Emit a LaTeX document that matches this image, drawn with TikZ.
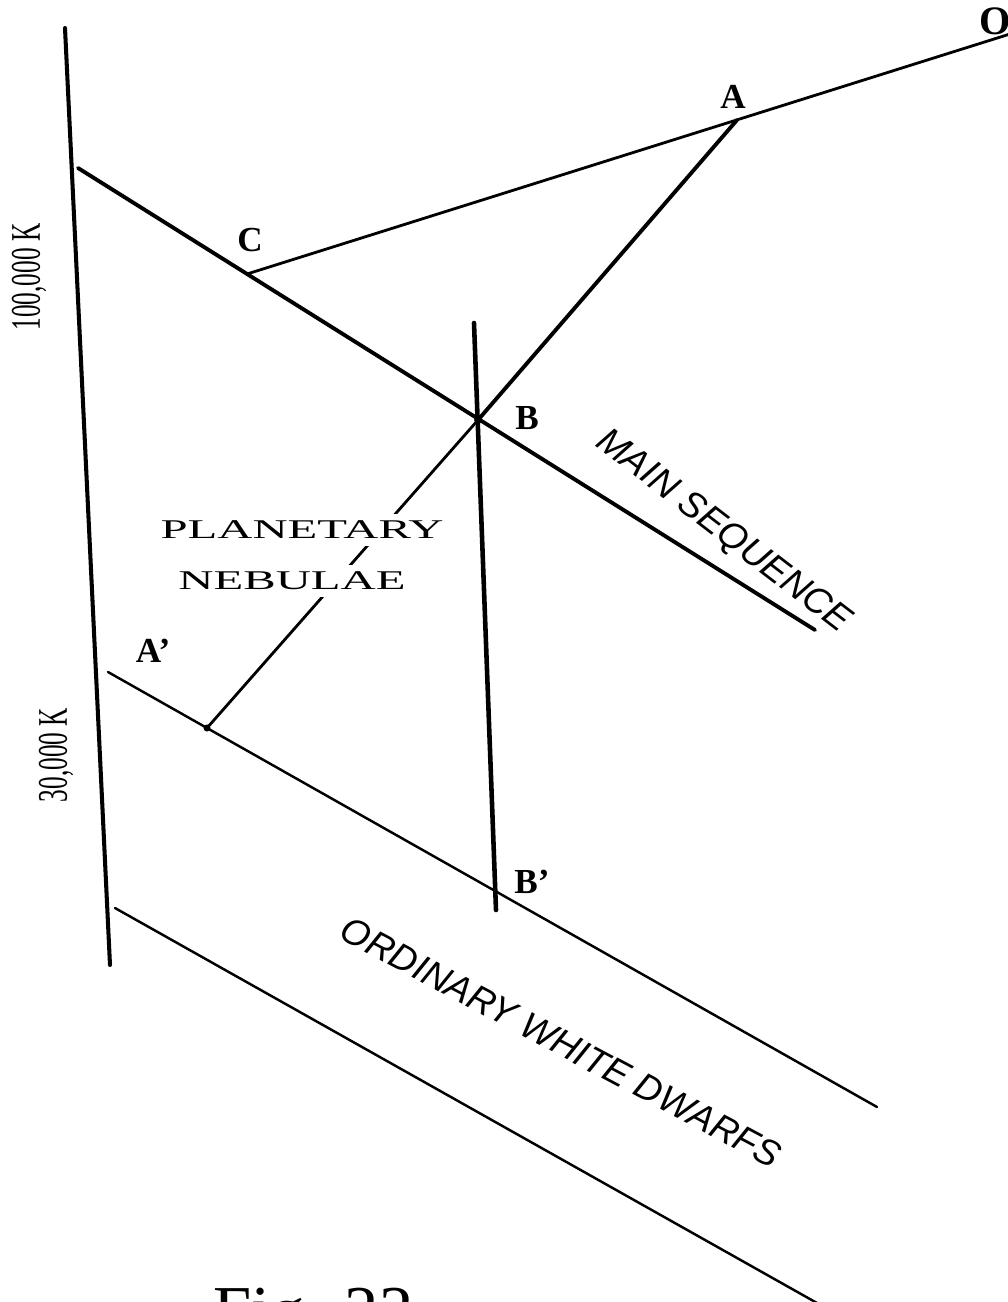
\documentclass[tikz,border=0pt]{standalone}
\usepackage{fontspec}
\setmainfont{Liberation Serif}
\setsansfont{Liberation Sans}
\usepackage{graphicx}
\usepackage{tikz}
\usepackage{tkz-euclide}

\tikzset{
  ptlabel/.style={font=\bfseries\fontsize{20}{24}\selectfont, anchor=center, inner sep=0pt},
  seqlabel/.style={font=\sffamily\itshape\fontsize{21}{24}\selectfont},
  templabel/.style={rotate=90, font=\fontsize{24}{28}\selectfont},
  neblabel/.style={fill=white, inner sep=4pt, font=\fontsize{15.4}{18}\selectfont}
}

\begin{document}
\begin{tikzpicture}
                \useasboundingbox (0,0) rectangle (20.14,-26.04);
                \tkzDefPoint(1.30,-0.56){T}
                \tkzDefPoint(2.20,-19.30){S}
                \tkzDefPoint(1.56,-3.36){M}
                \tkzDefPoint(16.30,-12.60){N}
                \tkzDefPoint(4.94,-5.48){C}
                \tkzDefPoint(14.74,-2.40){A}
                \tkzDefPoint(20.20,-0.68){O}
                \tkzDefPoint(9.56,-8.40){B}
                \tkzDefPoint(9.48,-6.46){U}
                \tkzDefPoint(9.92,-18.20){V}
                \tkzDefPoint(9.88,-17.80){Bp}
                \tkzDefPoint(2.16,-13.44){P}
                \tkzDefPoint(17.54,-22.14){Q}
                \tkzDefPoint(4.14,-14.56){Ap}
                \tkzDefPoint(2.30,-18.16){K}
                \tkzDefPoint(17.30,-26.60){L}
                \tkzDrawSegment[black, line width=2.3pt](T,S)
                \tkzDrawSegments[black, line width=2.2pt](M,N A,B)
                \tkzDrawSegment[black, line width=2.6pt](U,V)
                \tkzDrawSegment[black, line width=1.6pt](C,O)
                \tkzDrawSegment[black, line width=1.6pt](B,Ap)
                \tkzDrawSegments[black, line width=1.4pt](P,Q K,L)
                \fill (B) circle (2.2pt);
                \fill (Ap) circle (2pt);
                \tkzLabelPoint[ptlabel, xshift=-0.08cm, yshift=0.46cm](A){A}
                \tkzLabelPoint[ptlabel, xshift=0.98cm, yshift=0.04cm](B){B}
                \tkzLabelPoint[ptlabel, xshift=0.06cm, yshift=0.68cm](C){C}
                \tkzLabelPoint[ptlabel, xshift=-1.08cm, yshift=1.54cm](Ap){A'}
                \tkzLabelPoint[ptlabel, xshift=0.76cm, yshift=0.16cm](Bp){B'}
                \tkzLabelPoint[ptlabel, font=\bfseries\fontsize{23}{26}\selectfont, xshift=-0.30cm, yshift=0.26cm](O){O}
                \node[neblabel] (plan) at (6.04,-10.60) {\scalebox{1.8}[1]{PLANETARY}};
                \node[neblabel] (neb) at (5.84,-11.62) {\scalebox{1.8}[1]{NEBULAE}};
                \node[seqlabel, rotate=-37.5] (mainseq) at (14.46,-10.64) {MAIN SEQUENCE};
                \node[seqlabel, rotate=-28] (dwarfs) at (11.22,-20.84) {ORDINARY WHITE DWARFS};
                \node[templabel] (hot) at (0.58,-5.54) {\scalebox{0.6}[1]{100,000 K}};
                \node[templabel] (cool) at (1.12,-15.10) {\scalebox{0.6}[1]{30,000 K}};
                \node[anchor=base west, inner sep=0pt, font=\fontsize{39}{44}\selectfont] (fig) at (4.26,-26.66) {Fig. 22};
            \end{tikzpicture}
\end{document}
